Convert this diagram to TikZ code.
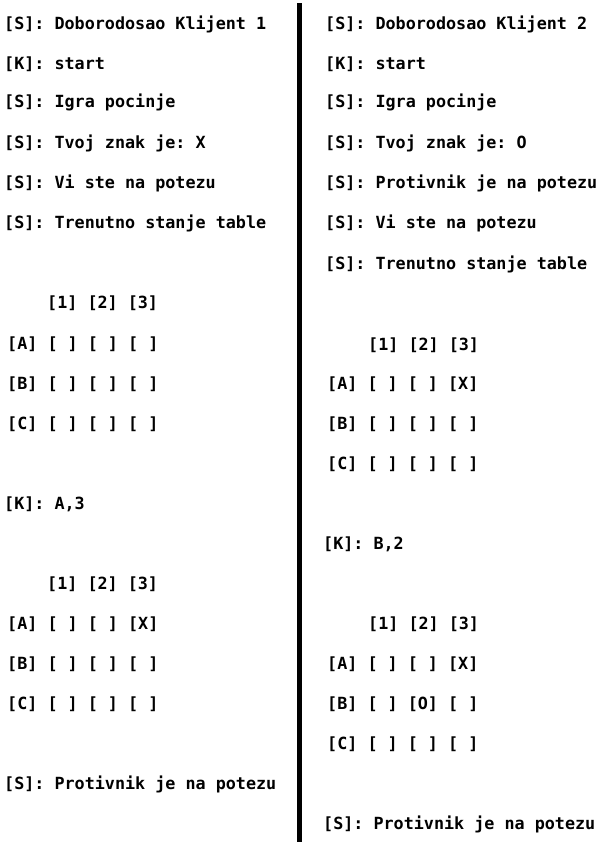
\documentclass[tikz,border=0pt]{standalone}
\usepackage{fontspec}
\setmonofont{DejaVu Sans Mono}
\tikzset{msg/.style={anchor=base west,inner sep=0pt,
font=\ttfamily\bfseries\fontsize{16.8}{18}\selectfont}}

\begin{document}
\begin{tikzpicture}[x=1bp,y=-1bp]
\useasboundingbox (0,0) rectangle (602,846);
% klijent 1
\node[msg] (Lpoz) at (4,29.5) {[S]: Doborodosao Klijent 1};
\node[msg] (Lstart) at (4,69.5) {[K]: start};
\node[msg] (Ligra) at (4,107) {[S]: Igra pocinje};
\node[msg] (Lznak) at (4,148) {[S]: Tvoj znak je: X};
\node[msg] (Lnapotezu) at (4,188) {[S]: Vi ste na potezu};
\node[msg] (Lstanje) at (4,228) {[S]: Trenutno stanje table};
\node[msg] (Lkol) at (47,308) {[1] [2] [3]};
\node[msg] (LA) at (7,349.5) {[A] [ ] [ ] [ ]};
\node[msg] (LB) at (7,389) {[B] [ ] [ ] [ ]};
\node[msg] (LC) at (7,429.5) {[C] [ ] [ ] [ ]};
\node[msg] (Lpotez) at (4,509.5) {[K]: A,3};
\node[msg] (Lkol2) at (47,589.5) {[1] [2] [3]};
\node[msg] (LA2) at (7,629.5) {[A] [ ] [ ] [X]};
\node[msg] (LB2) at (7,669.5) {[B] [ ] [ ] [ ]};
\node[msg] (LC2) at (7,709.5) {[C] [ ] [ ] [ ]};
\node[msg] (Lprot) at (4,789.5) {[S]: Protivnik je na potezu};
% klijent 2
\node[msg] (Rpoz) at (325,29.5) {[S]: Doborodosao Klijent 2};
\node[msg] (Rstart) at (325,69.5) {[K]: start};
\node[msg] (Rigra) at (325,107) {[S]: Igra pocinje};
\node[msg] (Rznak) at (325,148) {[S]: Tvoj znak je: O};
\node[msg] (Rprot) at (325,188) {[S]: Protivnik je na potezu};
\node[msg] (Rnapotezu) at (325,228.5) {[S]: Vi ste na potezu};
\node[msg] (Rstanje) at (325,269.5) {[S]: Trenutno stanje table};
\node[msg] (Rkol) at (368,350) {[1] [2] [3]};
\node[msg] (RA) at (327,389) {[A] [ ] [ ] [X]};
\node[msg] (RB) at (327,429.5) {[B] [ ] [ ] [ ]};
\node[msg] (RC) at (327,469.5) {[C] [ ] [ ] [ ]};
\node[msg] (Rpotez) at (323,549.5) {[K]: B,2};
\node[msg] (Rkol2) at (368,629.5) {[1] [2] [3]};
\node[msg] (RA2) at (327,669.5) {[A] [ ] [ ] [X]};
\node[msg] (RB2) at (327,709.5) {[B] [ ] [O] [ ]};
\node[msg] (RC2) at (327,749.5) {[C] [ ] [ ] [ ]};
\node[msg] (Rprot2) at (323,829.5) {[S]: Protivnik je na potezu};
% pregrada
\coordinate (vrh) at (299.5,3);
\coordinate (dno) at (299.5,842);
\draw[line width=5bp] (vrh) -- (dno);
\end{tikzpicture}
\end{document}
